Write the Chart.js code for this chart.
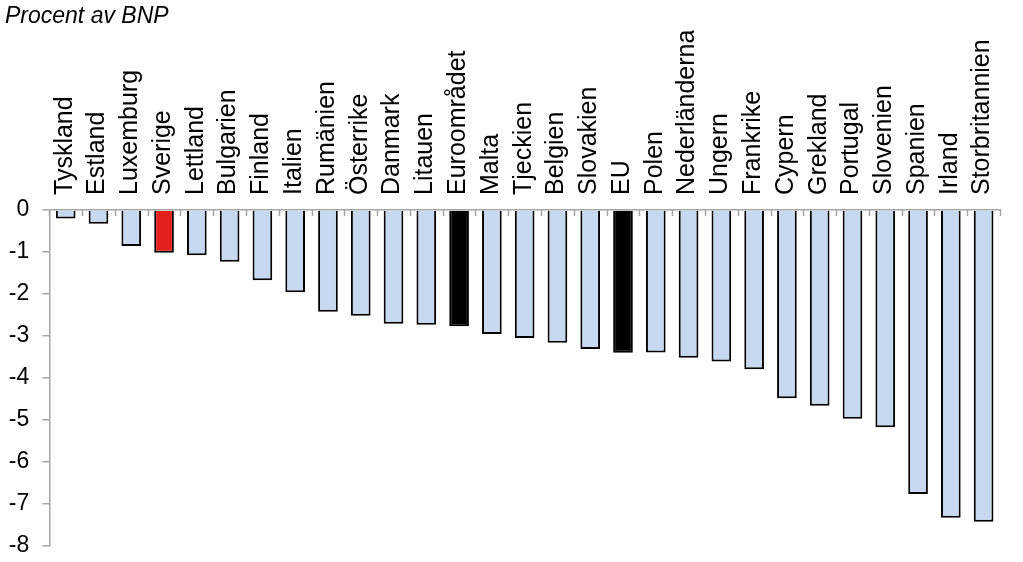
<!DOCTYPE html>
<html>
<head>
<meta charset="utf-8">
<script src="https://cdn.jsdelivr.net/npm/chart.js@4.4.1/dist/chart.umd.min.js"></script>
<style>
  html, body { margin: 0; padding: 0; background: #fff; }
  #wrap { width: 1023px; height: 562px; position: relative; }
</style>
</head>
<body>
<div id="wrap"><canvas id="c" width="1023" height="562"></canvas></div>
<script>
const categories = ["Tyskland","Estland","Luxemburg","Sverige","Lettland","Bulgarien","Finland","Italien","Rumänien","Österrike","Danmark","Litauen","Euroområdet","Malta","Tjeckien","Belgien","Slovakien","EU","Polen","Nederländerna","Ungern","Frankrike","Cypern","Grekland","Portugal","Slovenien","Spanien","Irland","Storbritannien"];
const values = [-0.20,-0.33,-0.86,-1.02,-1.08,-1.23,-1.67,-1.96,-2.42,-2.52,-2.71,-2.73,-2.77,-2.95,-3.05,-3.16,-3.31,-3.40,-3.39,-3.52,-3.61,-3.79,-4.48,-4.66,-4.97,-5.17,-6.76,-7.33,-7.42];
const yMin = -8, yMax = 0, yStep = 1;
const titleText = "Procent av BNP";

const FONT = "'Liberation Sans', Arial, sans-serif";
const AXIS_GRAY = "#a6a6a6";
const highlightColors = { "Sverige": "#e3201b", "Euroområdet": "#000000", "EU": "#000000" };
const baseColor = "#c6d9f1";

const catTicks = {
  id: 'catTicks',
  afterDraw(chart) {
    const x = chart.scales.x, ctx = chart.ctx;
    const top = chart.chartArea.top;
    ctx.save();
    ctx.strokeStyle = AXIS_GRAY;
    ctx.lineWidth = 1.5;
    for (let i = 0; i <= categories.length; i++) {
      const px = Math.round(x.getPixelForValue(i - 0.5)) + 0.5;
      ctx.beginPath();
      ctx.moveTo(px, top);
      ctx.lineTo(px, top + 6);
      ctx.stroke();
    }
    ctx.restore();
  }
};

new Chart(document.getElementById('c'), {
  type: 'bar',
  data: {
    labels: categories,
    datasets: [{
      data: values,
      backgroundColor: ctx => highlightColors[categories[ctx.dataIndex]] || baseColor,
      borderColor: '#000',
      borderWidth: 2,
      barPercentage: 0.6,
      categoryPercentage: 1.0
    }]
  },
  options: {
    responsive: false,
    animation: false,
    devicePixelRatio: 1,
    layout: { padding: { left: 5, right: 23, top: 0, bottom: 16 } },
    plugins: {
      legend: { display: false },
      tooltip: { enabled: false },
      title: {
        display: true,
        text: titleText,
        align: 'start',
        color: '#000',
        font: { family: FONT, size: 23, style: 'italic', weight: 'normal', lineHeight: 1.2 },
        padding: { top: 3, bottom: 0 }
      }
    },
    scales: {
      x: {
        position: 'top',
        offset: true,
        grid: { display: false, drawTicks: false },
        border: { display: true, color: AXIS_GRAY, width: 1.5 },
        ticks: {
          autoSkip: false,
          maxRotation: 90,
          minRotation: 90,
          padding: 15,
          labelOffset: 29,
          color: '#000',
          font: { family: FONT, size: 25 }
        },
        afterFit: s => { s.height = 210 - 30.6; s.paddingLeft = 0; s.paddingRight = 0; }
      },
      y: {
        min: yMin,
        max: yMax,
        ticks: {
          stepSize: yStep,
          padding: 13,
          color: '#000',
          font: { family: FONT, size: 23 }
        },
        grid: { drawOnChartArea: false, drawTicks: true, tickLength: 7, color: AXIS_GRAY, lineWidth: 1.5 },
        border: { display: true, color: AXIS_GRAY, width: 1.5 },
        afterFit: s => { s.width = 44.3; s.paddingTop = 0; s.paddingBottom = 0; }
      }
    }
  },
  plugins: [catTicks]
});
</script>
</body>
</html>
